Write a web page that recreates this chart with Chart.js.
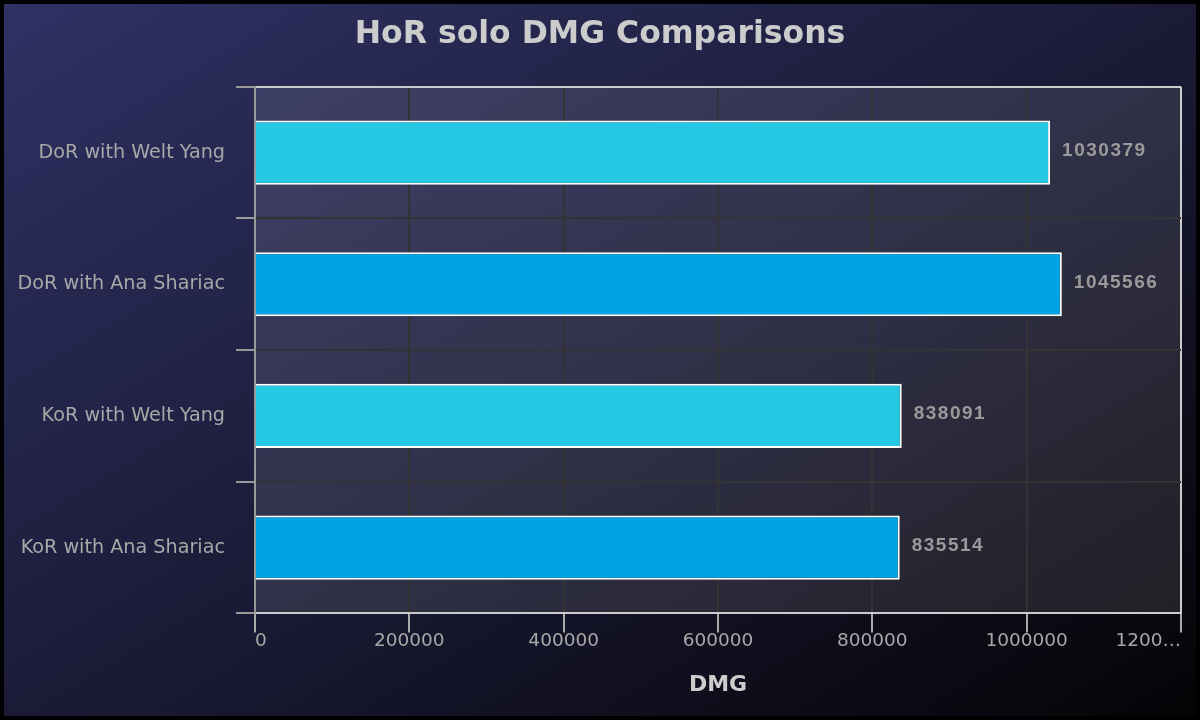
<!DOCTYPE html>
<html>
<head>
<meta charset="utf-8">
<title>HoR solo DMG Comparisons</title>
<script src="https://cdn.jsdelivr.net/npm/chart.js@4"></script>
<style>
    html, body { margin: 0; padding: 0; background: #000; }
    #wrap { width: 1200px; height: 720px; position: relative; }
</style>
</head>
<body>
<div id="wrap"><canvas id="dmgChart"></canvas></div>
<script>
// data
const teams = ['DoR with Welt Yang', 'DoR with Ana Shariac', 'KoR with Welt Yang', 'KoR with Ana Shariac'];
const dmgValues = [1030379, 1045566, 838091, 835514];
const barColors = ['#24c9e4', '#00a3e6', '#24c9e4', '#00a3e6'];
const xMax = 1200000;
const xStep = 200000;

// page background: dark frame + "to bottom right" gradient, lighter plot area
const backdrop = {
    id: 'backdrop',
    beforeDraw(chart) {
        const { ctx, width, height, chartArea } = chart;
        ctx.save();
        ctx.fillStyle = '#000';
        ctx.fillRect(0, 0, width, height);
        // isolines run through the other two corners (like css "to bottom right")
        const len = Math.hypot(width, height);
        const ux = height / len, uy = width / len;
        const half = (width * ux + height * uy) / 2;
        const cx = width / 2, cy = height / 2;
        const g = ctx.createLinearGradient(cx - ux * half, cy - uy * half, cx + ux * half, cy + uy * half);
        g.addColorStop(0, '#2f3264');
        g.addColorStop(0.5, '#1b1b38');
        g.addColorStop(1, '#040406');
        ctx.fillStyle = g;
        ctx.fillRect(4, 4, width - 8, height - 8);
        ctx.fillStyle = 'rgba(255,255,255,0.1)';
        ctx.fillRect(chartArea.left, chartArea.top, chartArea.right - chartArea.left, chartArea.bottom - chartArea.top);
        ctx.restore();
    }
};

// value labels at the end of each bar
const valueLabels = {
    id: 'valueLabels',
    afterDatasetsDraw(chart) {
        const { ctx } = chart;
        const meta = chart.getDatasetMeta(0);
        ctx.save();
        ctx.font = 'bold 19px "Liberation Sans", Arial, sans-serif';
        ctx.letterSpacing = '1.5px';
        ctx.fillStyle = '#9a9a9a';
        ctx.textAlign = 'left';
        ctx.textBaseline = 'middle';
        meta.data.forEach((bar, i) => {
            ctx.fillText(String(dmgValues[i]), bar.x + 12, bar.y - 2);
        });
        ctx.restore();
    }
};

const ctx = document.getElementById('dmgChart').getContext('2d');
new Chart(ctx, {
    type: 'bar',
    data: {
        labels: teams,
        datasets: [{
            label: 'DMG',
            data: dmgValues,
            backgroundColor: barColors,
            borderColor: '#ffffff',
            borderWidth: 2,
            borderSkipped: 'start',
            categoryPercentage: 1,
            barPercentage: 0.487
        }]
    },
    options: {
        indexAxis: 'y',
        responsive: true,
        maintainAspectRatio: false,
        animation: false,
        layout: {
            padding: { left: 0, right: 0, top: 0, bottom: 0 }
        },
        scales: {
            x: {
                min: 0,
                max: xMax,
                // keep the plot 19px off the right edge without shifting the title
                afterFit: (s) => { s.paddingRight = 19; },
                ticks: {
                    stepSize: xStep,
                    align: 'inner',
                    padding: -2,
                    color: '#a8a8a8',
                    font: { family: '"DejaVu Sans", sans-serif', size: 18.5 },
                    callback: (v) => v >= xMax ? '1200…' : String(v)
                },
                grid: {
                    lineWidth: 2,
                    tickLength: 19,
                    color: (c) => c.index === 0 ? '#999' : (c.tick && c.tick.value >= xMax ? '#ccc' : '#333'),
                    tickColor: '#aaa'
                },
                border: { display: true, color: '#cccccc', width: 2 },
                title: {
                    display: true,
                    text: 'DMG',
                    color: '#cccccc',
                    font: { family: '"DejaVu Sans", sans-serif', size: 22, weight: 'bold' },
                    padding: { top: 21, bottom: 22 }
                }
            },
            y: {
                afterFit: (s) => { s.width = 255; },
                ticks: {
                    padding: 11,
                    color: '#a8a8a8',
                    font: { family: '"DejaVu Sans", sans-serif', size: 19.2 }
                },
                grid: {
                    offset: true,
                    lineWidth: 2,
                    tickLength: 19,
                    color: (c) => c.index === 0 ? '#ccc' : '#333',
                    tickColor: '#999'
                },
                border: { display: true, color: '#999999', width: 2, z: 1 }
            }
        },
        plugins: {
            legend: { display: false },
            tooltip: { enabled: false },
            title: {
                display: true,
                text: 'HoR solo DMG Comparisons',
                color: '#cccccc',
                font: { family: '"DejaVu Sans", sans-serif', size: 31.5, weight: 'bold' },
                padding: { top: 16, bottom: 33 }
            }
        }
    },
    plugins: [backdrop, valueLabels]
});
</script>
</body>
</html>
